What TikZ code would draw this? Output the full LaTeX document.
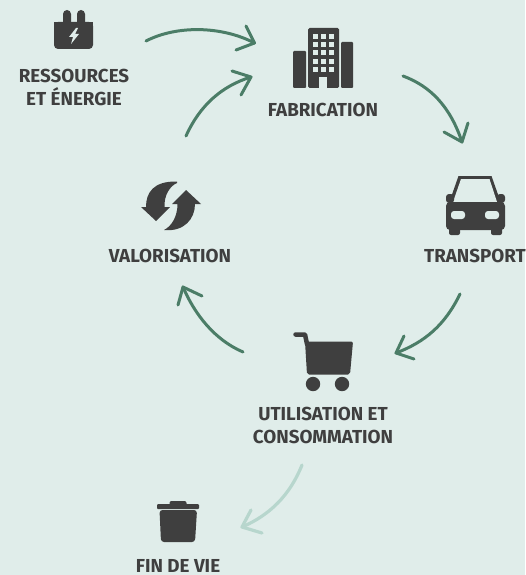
\documentclass[tikz,border=0pt]{standalone}
\usepackage{fontspec}
\setmainfont{Fira Sans}
\definecolor{bgc}{HTML}{E0EDEA}
\definecolor{ink}{HTML}{3F3F3F}
\definecolor{arrowc}{HTML}{4B7D67}
\definecolor{arrowl}{HTML}{B7D6CD}
\tikzset{
  lab/.style={font=\bfseries\fontsize{18.8}{23}\selectfont, text=ink, align=center, inner sep=0pt},
  cycle/.style={draw=arrowc, line width=3pt, line cap=round, line join=round},
  exitarrow/.style={draw=arrowl, line width=3.2pt, line cap=round, line join=round},
  solid ink/.style={fill=ink, draw=none},
  hole/.style={fill=bgc, draw=none},
}
\begin{document}
\begin{tikzpicture}[x=1pt,y=-1pt]
\useasboundingbox (0,0) rectangle (525,575);
\fill[bgc] (0,0) rectangle (525,575);
% labels
\node[lab] (res) at (74,87) {RESSOURCES\\ET ÉNERGIE};
\node[lab] (fab) at (323,109.5) {FABRICATION};
\node[lab] (tra) at (475,255.5) {TRANSPORT};
\node[lab] (val) at (170,255.5) {VALORISATION};
\node[lab] (uti) at (323,425) {UTILISATION ET\\CONSOMMATION};
\node[lab] (fin) at (178,566) {FIN DE VIE};
% plug
\fill[solid ink] (63,23) -- (63,14) arc[start angle=180,end angle=360,radius=4] -- (71,23) -- cycle;
\fill[solid ink] (77,23) -- (77,14) arc[start angle=180,end angle=360,radius=4] -- (85,23) -- cycle;
\fill[solid ink,rounded corners=4pt] (54,22) -- (93,22) -- (93,49) -- (54,49) -- cycle;
\fill[solid ink] (54,22) rectangle (93,30);
\fill[hole] (76,28) -- (69,37) -- (73,37) -- (71,44) -- (79,34) -- (75,34) -- (78,28) -- cycle;
% building
\fill[solid ink,rounded corners=1pt] (293,88) -- (293,51) -- (306,51) -- (306,88) -- cycle;
\fill[solid ink,rounded corners=1pt] (341,88) -- (341,42) -- (353,42) -- (353,88) -- cycle;
\fill[solid ink,rounded corners=1.5pt] (308,88) -- (308,28) -- (339,28) -- (339,88) -- cycle;
\foreach \wx in {313,320.5,329}{
  \foreach \wy in {34.5,42,50.5,59,67}{
    \fill[hole] (\wx,\wy) rectangle ++(5,5);
  }
}
\fill[hole] (319,88) rectangle (327,77);
% car
\fill[solid ink] (458.5,176) -- (491.5,176) -- (501,203) -- (449,203) -- cycle;
\fill[hole] (461,179) -- (489.5,179) -- (497,202) -- (453,202) -- cycle;
\fill[solid ink,rounded corners=3pt] (446,194) rectangle (454,203);
\fill[solid ink,rounded corners=3pt] (497,194) rectangle (505,203);
\fill[solid ink,rounded corners=4pt] (446,202) rectangle (505,230);
\fill[solid ink,rounded corners=2pt] (449,222) rectangle (460,235);
\fill[solid ink,rounded corners=2pt] (491,222) rectangle (502,235);
\fill[hole,rounded corners=3pt] (451,211) rectangle (465,219);
\fill[hole,rounded corners=3pt] (485,211) rectangle (499,219);
% recycle
\fill[solid ink] (177,181.5) .. controls (153,181) and (146,193) .. (146,207) -- (141,207) -- (156,221) -- (170,207) -- (164.5,207) .. controls (164,195) and (170,186) .. (177,183) -- cycle;
\fill[solid ink] (164,230) .. controls (184,232) and (195,219) .. (195,204) -- (201,204) -- (186,190) -- (172,204) -- (177.5,204) .. controls (177.5,216) and (172,226) .. (164,230) -- cycle;
% cart
\draw[ink,line width=4.5pt,line cap=round,line join=round] (295.5,334.5) -- (305,334.5) -- (307,344);
\fill[solid ink,rounded corners=2pt] (305,341.5) -- (353,341.5) -- (350,374.5) -- (307,374.5) -- cycle;
\fill[solid ink] (313,384) circle[radius=7.2];
\fill[solid ink] (342,384) circle[radius=7.2];
% trash
\fill[solid ink,rounded corners=1pt] (157,504) rectangle (199,509);
\fill[solid ink,rounded corners=2pt] (169.5,501) rectangle (186.5,506);
\fill[solid ink,rounded corners=3pt] (159.5,510) -- (197,510) -- (195,542) -- (161,542) -- cycle;
% arrow anchors
\coordinate (a1s) at (146,41);
\coordinate (a1e) at (254.5,43);
\coordinate (a1h) at (246,26);
\coordinate (a1i) at (236,50);
\coordinate (a2s) at (186,136);
\coordinate (a2e) at (251,77);
\coordinate (a2h) at (232,71);
\coordinate (a2i) at (241,95);
\coordinate (a3s) at (403,76);
\coordinate (a3e) at (462,142);
\coordinate (a3h) at (444,132);
\coordinate (a3i) at (468,123);
\coordinate (a4s) at (460,294);
\coordinate (a4e) at (396,353);
\coordinate (a4h) at (404,336);
\coordinate (a4i) at (414,359);
\coordinate (a5s) at (243,352);
\coordinate (a5e) at (183,287);
\coordinate (a5h) at (202,296);
\coordinate (a5i) at (178,305);
\coordinate (a6s) at (302,465);
\coordinate (a6e) at (242,527);
\coordinate (a6h) at (251,510);
\coordinate (a6i) at (262,533);
% arrows
\draw[cycle] (a1s) .. controls (177,25) and (222,26) .. (a1e);
\draw[cycle] (a1h) -- (a1e) -- (a1i);
\draw[cycle] (a2s) .. controls (200,105) and (222,86) .. (a2e);
\draw[cycle] (a2h) -- (a2e) -- (a2i);
\draw[cycle] (a3s) .. controls (430,86) and (450,106) .. (a3e);
\draw[cycle] (a3h) -- (a3e) -- (a3i);
\draw[cycle] (a4s) .. controls (445,325) and (425,342) .. (a4e);
\draw[cycle] (a4h) -- (a4e) -- (a4i);
\draw[cycle] (a5s) .. controls (215,340) and (195,315) .. (a5e);
\draw[cycle] (a5h) -- (a5e) -- (a5i);
\draw[exitarrow] (a6s) .. controls (290,495) and (270,515) .. (a6e);
\draw[exitarrow] (a6h) -- (a6e) -- (a6i);
\end{tikzpicture}
\end{document}
